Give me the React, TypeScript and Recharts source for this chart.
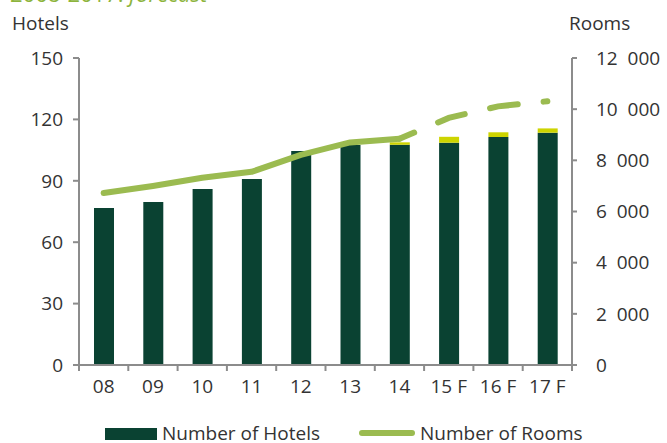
import React from 'react';
import { ComposedChart, Bar, Line, XAxis, YAxis } from 'recharts';

const years = ['08', '09', '10', '11', '12', '13', '14', '15 F', '16 F', '17 F'];
const hotels = [76.7, 79.6, 86, 90.9, 104.5, 107.5, 107.6, 108.6, 111.4, 113.5];
const hotelsPipeline = [null, null, null, null, null, null, 1.2, 2.9, 2.3, 2.1];
const roomsActual = [6720, 7000, 7320, 7550, 8210, 8700, 8840, null, null, null];
const roomsForecast = [null, null, null, null, null, null, 8840, 9660, 10110, 10310];
const hotelTicks = [0, 30, 60, 90, 120, 150];
const roomTicks = [0, 2000, 4000, 6000, 8000, 10000, 12000];

const W = 667;
const H = 443;
const LEFT_W = 79;
const RIGHT_W = 95;
const TOP = 58;
const X_H = 78;
const HALF_BAND = (W - LEFT_W - RIGHT_W) / years.length / 2;

const DARK = '#0a4232';
const YELLOW = '#cdd400';
const LIGHT = '#9bbb50';
const AXIS = '#8c8c8c';
const TEXT = '#333333';
const FONT = '"Open Sans", "Liberation Sans", sans-serif';

const rows = years.map((y, i) => ({
  year: y,
  hotels: hotels[i],
  pipeline: hotelsPipeline[i],
  rooms: roomsActual[i],
  roomsF: roomsForecast[i],
}));

const fmtRooms = (v: number) => (v === 0 ? '0' : `${v / 1000}\u00a0\u00a0000`);

const YearTick = (props: any) => {
  const { x, y, payload, index } = props;
  return (
    <g>
      <line x1={x + HALF_BAND} x2={x + HALF_BAND} y1={y} y2={y + 6} stroke={AXIS} strokeWidth={2} />
      {index === 0 && (
        <line x1={x - HALF_BAND} x2={x - HALF_BAND} y1={y} y2={y + 6} stroke={AXIS} strokeWidth={2} />
      )}
      <text x={x} y={y + 28} textAnchor="middle" fill={TEXT} fontSize={19} fontFamily={FONT}>
        {payload.value}
      </text>
    </g>
  );
};

export default function App() {
  return (
    <div style={{ position: 'relative', width: W, height: H, fontFamily: FONT }}>
      <style>{'body{margin:0}'}</style>
      <ComposedChart
        width={W}
        height={H}
        data={rows}
        margin={{ top: TOP, right: 0, bottom: 0, left: 0 }}
      >
        <XAxis
          dataKey="year"
          height={X_H}
          tickSize={0}
          tickMargin={0}
          tick={<YearTick />}
          axisLine={{ stroke: AXIS, strokeWidth: 2 }}
          interval={0}
        />
        <YAxis
          yAxisId="h"
          width={LEFT_W}
          domain={[0, 150]}
          ticks={hotelTicks}
          tickSize={6}
          tickMargin={10}
          axisLine={{ stroke: AXIS, strokeWidth: 2 }}
          tickLine={{ stroke: AXIS, strokeWidth: 2 }}
          tick={{ fill: TEXT, fontSize: 19, fontFamily: FONT }}
        />
        <YAxis
          yAxisId="r"
          orientation="right"
          width={RIGHT_W}
          domain={[0, 12000]}
          ticks={roomTicks}
          tickFormatter={fmtRooms}
          tickSize={5}
          tickMargin={19}
          axisLine={{ stroke: AXIS, strokeWidth: 2 }}
          tickLine={{ stroke: AXIS, strokeWidth: 2 }}
          tick={{ fill: TEXT, fontSize: 19, fontFamily: FONT, textAnchor: 'start' }}
        />
        <Bar yAxisId="h" dataKey="hotels" stackId="h" fill={DARK} barSize={20} isAnimationActive={false} />
        <Bar yAxisId="h" dataKey="pipeline" stackId="h" fill={YELLOW} barSize={20} isAnimationActive={false} />
        <Line
          yAxisId="r"
          dataKey="rooms"
          type="linear"
          stroke={LIGHT}
          strokeWidth={6}
          strokeLinecap="round"
          strokeLinejoin="round"
          dot={false}
          activeDot={false}
          isAnimationActive={false}
        />
        <Line
          yAxisId="r"
          dataKey="roomsF"
          type="linear"
          stroke={LIGHT}
          strokeWidth={6}
          strokeLinecap="round"
          strokeDasharray="28 26"
          strokeDashoffset={12}
          dot={false}
          activeDot={false}
          isAnimationActive={false}
        />
      </ComposedChart>
      <svg
        width={W}
        height={H}
        style={{ position: 'absolute', left: 0, top: 0, pointerEvents: 'none' }}
        fontFamily={FONT}
      >
        {/* title sits mostly above the crop, only its lower edge shows */}
        <text x={10} y={2} fontSize={22} fill="#8db43c">
          2008-2017: <tspan fontStyle="italic">forecast</tspan>
        </text>
        <text x={12} y={30} fontSize={19} fill={TEXT}>Hotels</text>
        <text x={569} y={30} fontSize={19} fill={TEXT}>Rooms</text>
        <rect x={105} y={428} width={52} height={12} fill={DARK} />
        <text x={162} y={440} fontSize={19} fill={TEXT}>Number of Hotels</text>
        <line x1={362} x2={412} y1={433} y2={433} stroke={LIGHT} strokeWidth={6} strokeLinecap="round" />
        <text x={420} y={440} fontSize={19} fill={TEXT}>Number of Rooms</text>
      </svg>
    </div>
  );
}
